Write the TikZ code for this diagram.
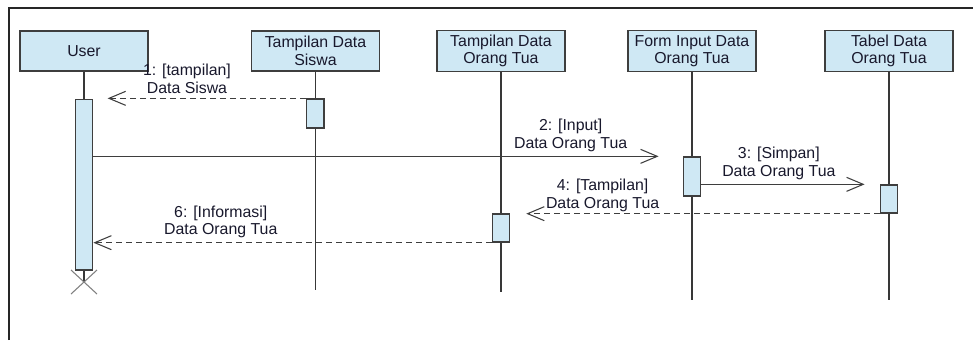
\documentclass[tikz,border=0pt]{standalone}
\usepackage{fontspec}
\setmainfont{Liberation Sans}
\usepackage{tikz}
\usetikzlibrary{arrows.meta}
\definecolor{objfill}{RGB}{207,232,244}
\definecolor{objdraw}{RGB}{62,62,62}
\definecolor{labeltext}{RGB}{24,24,44}
\tikzstyle{object} = [rectangle, minimum width=96pt, minimum height=30pt, text centered, align=center, draw=objdraw, line width=1pt, fill=objfill, text=labeltext]
\tikzstyle{activation} = [rectangle, minimum width=13pt, inner sep=0pt, draw=objdraw, line width=1pt, fill=objfill]
\tikzstyle{lifeline} = [draw=objdraw!90!black, line width=0.9pt]
\tikzstyle{call} = [draw=objdraw, line width=0.9pt, ->, >={Straight Barb[length=12.5pt,width=10.5pt,line width=0.8pt]}]
\tikzstyle{reply} = [call, dash pattern=on 4.5pt off 3pt]
\tikzstyle{msglabel} = [anchor=south, inner sep=0pt, yshift=3pt, align=center, text=labeltext]

\begin{document}
\begin{tikzpicture}[x=0.75pt, y=-0.75pt, node distance=145pt, font=\fontsize{11.9}{13.2}\selectfont]
        \useasboundingbox (0,0) rectangle (973,340);

        % frame
        \draw [line width=1.5pt, draw=black!85] (9,340) -- (9,8) -- (973,8);

        % objects
        \node (User) [object] at (84,51) {User};
        \node (TampilSiswa) [object, right of=User, xshift=28.6pt] {Tampilan Data\\Siswa};
        \node (TampilOrtu) [object, right of=TampilSiswa, xshift=-5.9pt] {Tampilan Data\\Orang Tua};
        \node (FormOrtu) [object, right of=TampilOrtu, xshift=-1.75pt] {Form Input Data\\Orang Tua};
        \node (TabelOrtu) [object, right of=FormOrtu, xshift=2.75pt] {Tabel Data\\Orang Tua};

        % lifelines
        \coordinate (userEnd) at (User |- 0,282);
        \coordinate (siswaEnd) at (TampilSiswa |- 0,290);
        \coordinate (ortuEnd) at (TampilOrtu |- 0,292);
        \coordinate (formEnd) at (FormOrtu |- 0,300);
        \coordinate (tabelEnd) at (TabelOrtu |- 0,300);
        \draw [lifeline] (User) -- (userEnd);
        \draw [lifeline] (TampilSiswa) -- (siswaEnd);
        \draw [lifeline] (TampilOrtu) -- (ortuEnd);
        \draw [lifeline] (FormOrtu) -- (formEnd);
        \draw [lifeline] (TabelOrtu) -- (tabelEnd);

        % activations
        \node (actUser) [activation, minimum height=128pt] at (User |- 0,184.5) {};
        \node (actSiswa) [activation, minimum height=21.75pt] at (TampilSiswa |- 0,113.5) {};
        \node (actForm) [activation, minimum height=29.25pt] at (FormOrtu |- 0,176.5) {};
        \node (actTabel) [activation, minimum height=21pt] at (TabelOrtu |- 0,199) {};
        \node (actOrtu) [activation, minimum height=21pt] at (TampilOrtu |- 0,228) {};

        % destroy
        \draw [draw=black!50, line width=0.8pt] (userEnd) ++(-13,-12) -- ++(26,24) ++(0,-24) -- ++(-26,24);

        % messages
        \draw [reply, shorten >=10.7pt] (actSiswa.north west) -- node[msglabel, pos=0.56] (msgOne) {1: [tampilan]\\Data Siswa} (actUser.east |- actSiswa.north west);
        \draw [call, shorten >=18pt] (actUser.east |- actForm.north west) -- node[msglabel, pos=0.81] (msgTwo) {2: [Input]\\Data Orang Tua} (actForm.north west);
        \draw [call, shorten >=11.25pt] (actForm.east |- actTabel.north west) -- node[msglabel, pos=0.435] (msgThree) {3: [Simpan]\\Data Orang Tua} (actTabel.north west);
        \draw [reply, shorten >=12pt] (actTabel.south west) -- node[msglabel, pos=0.75, yshift=-2pt] (msgFour) {4: [Tampilan]\\Data Orang Tua} (actOrtu.east |- actTabel.south west);
        \draw [reply] (actOrtu.south west) -- node[msglabel, pos=0.68] (msgSix) {6: [Informasi]\\Data Orang Tua} (actUser.east |- actOrtu.south west);

\end{tikzpicture}
\end{document}
